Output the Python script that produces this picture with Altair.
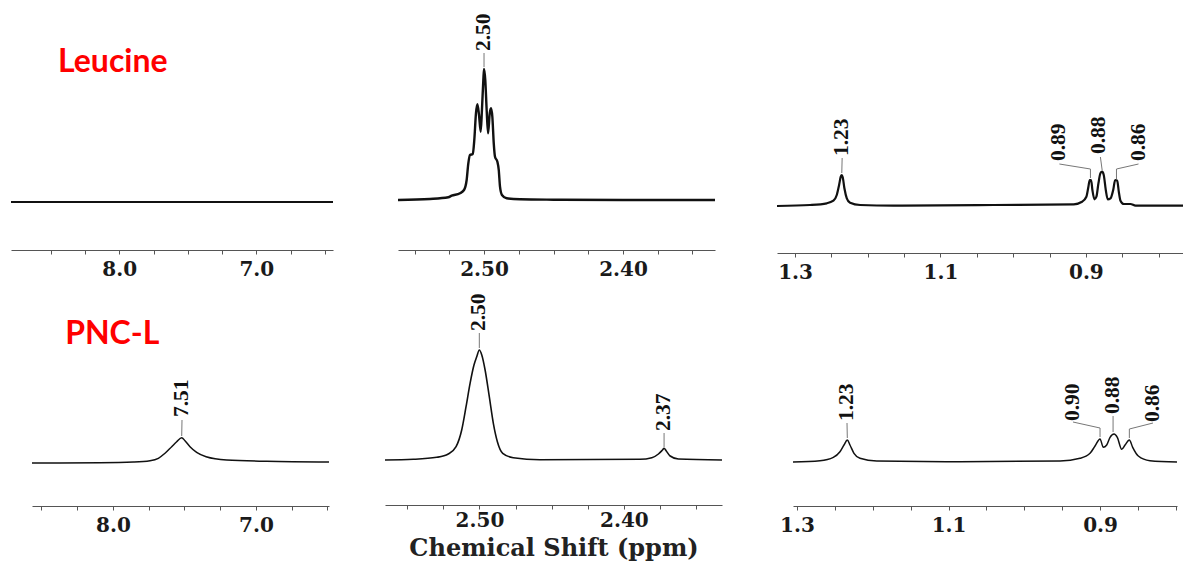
import altair as alt
import pandas as pd

CANVAS_W, CANVAS_H = 1183, 561

# ---------------- data (ppm, intensity) ----------------
# Top row: Leucine
LEU_AR_PPM = [8.79, 8.40, 8.00, 7.60, 7.20, 6.80, 6.44]
LEU_AR_H = [0, 0, 0, 0, 0, 0, 0]

LEU_DMSO_PPM = [2.5619, 2.5389, 2.5257, 2.5233, 2.5173, 2.5144, 2.5125, 2.5113, 2.5101,
                2.5081, 2.5070, 2.5058, 2.5048, 2.5036, 2.5024, 2.5015, 2.5005, 2.5000,
                2.4991, 2.4981, 2.4971, 2.4959, 2.4950, 2.4940, 2.4930, 2.4921, 2.4904,
                2.4894, 2.4885, 2.4871, 2.4837, 2.4741, 2.4500, 2.4000, 2.3600, 2.3338]
LEU_DMSO_H = [0, 1, 2.7, 4.3, 6.7, 10, 20, 36.7, 45,
              46, 60, 86.7, 95.7, 85, 68.3, 90, 120, 131,
              120, 90, 66.7, 86.7, 91.7, 83, 56.7, 43.3, 38.3,
              30, 13.3, 5, 1.7, 0.7, 0.3, 0, 0, 0]

LEU_AL_PPM = [1.3248, 1.2793, 1.2563, 1.2472, 1.2426, 1.2394, 1.2371, 1.2357, 1.2344,
              1.2321, 1.2288, 1.2243, 1.2105, 1.1646, 1.0269, 0.9167, 0.9052, 0.8993,
              0.8965, 0.8947, 0.8928, 0.8910, 0.8882, 0.8855, 0.8827, 0.8800, 0.8776,
              0.8754, 0.8726, 0.8699, 0.8661, 0.8624, 0.8597, 0.8569, 0.8547, 0.8524,
              0.8478, 0.8386, 0.8317, 0.7664]
LEU_AL_H = [0, 1, 2.7, 5.3, 11, 21, 29.3, 31, 28.7,
            17.7, 7.7, 3.3, 1, 0.3, 1, 1.7, 4.3, 9.3,
            19.3, 26, 26, 16, 6.7, 9.3, 22.7, 32.7, 34.3,
            31, 16, 6.7, 7.7, 16, 26, 25.3, 14.3, 5.3,
            2, 2, 0.3, 0.3]

# Bottom row: PNC-L
PNC_AR_PPM = [8.566, 8.0905, 7.8576, 7.7408, 7.6826, 7.6359, 7.5891, 7.5541, 7.5191,
              7.4961, 7.4611, 7.4145, 7.3483, 7.2045, 6.9247, 6.489]
PNC_AR_H = [0, 0.3, 1, 2.3, 4.7, 9.7, 16.3, 21.3, 25.3,
            22.3, 16.3, 10.7, 6.3, 3, 1.7, 1]

PNC_DMSO_PPM = [2.5654, 2.5458, 2.5296, 2.5216, 2.5162, 2.5123, 2.5093, 2.5065, 2.5038,
                2.5019, 2.5001, 2.4984, 2.4961, 2.4932, 2.4904, 2.4876, 2.4839, 2.4766,
                2.4581, 2.3888, 2.3807, 2.3761, 2.3733, 2.3722, 2.3708, 2.3680, 2.3623,
                2.3321]
PNC_DMSO_H = [0, 0.7, 2.7, 6, 13.3, 30, 53.3, 76.7, 95,
              103.3, 110, 105, 90, 63.3, 36.7, 18.3, 6.7, 2.3,
              0.3, 0.7, 2.3, 6, 10, 11.7, 9.3, 4, 1,
              0]

PNC_AL_PPM = [1.3053, 1.2697, 1.2521, 1.2433, 1.2380, 1.2336, 1.2301, 1.2248, 1.2169,
              1.1948, 1.0848, 0.9528, 0.9264, 0.9132, 0.9066, 0.9000, 0.8957, 0.8912,
              0.8868, 0.8815, 0.8772, 0.8714, 0.8670, 0.8613, 0.8569, 0.8495, 0.8341,
              0.7984]
PNC_AL_H = [0, 1.3, 4.7, 10.3, 17, 22, 17, 8.7, 3.7,
            1, 0.3, 1, 3.7, 8.7, 16, 23, 14.7, 17,
            24.7, 28, 24.7, 12.7, 17, 22, 14.7, 6, 1.3,
            0]

# Peak labels: text, ppm of label, intensity at the foot of the label
LEU_DMSO_LABELS = [("2.50", 2.5000, 149)]
LEU_AL_LABELS = [("1.23", 1.2352, 50), ("0.89", 0.9364, 45), ("0.88", 0.8813, 52), ("0.86", 0.8276, 45)]
PNC_AR_LABELS = [("7.51", 7.517, 46)]
PNC_DMSO_LABELS = [("2.50", 2.5001, 129), ("2.37", 2.3722, 29)]
PNC_AL_LABELS = [("1.23", 1.2340, 41), ("0.90", 0.9357, 41), ("0.88", 0.8828, 48), ("0.86", 0.8301, 40)]

# Leader lines from label to peak (ppm, intensity)
LEU_DMSO_LEADERS = [[(2.5000, 147), (2.5000, 133)]]
LEU_AL_LEADERS = [[(1.2352, 48), (1.2357, 33)],
                  [(0.9364, 42), (0.8937, 37), (0.8937, 28)],
                  [(0.8800, 49), (0.8776, 36)],
                  [(0.8276, 42), (0.8579, 37), (0.8579, 27)]]
PNC_AR_LEADERS = [[(7.517, 43), (7.519, 27)]]
PNC_DMSO_LEADERS = [[(2.5001, 127), (2.5001, 112)], [(2.3722, 27), (2.3722, 13)]]
PNC_AL_LEADERS = [[(1.2340, 39), (1.2336, 24)],
                  [(0.9357, 40), (0.9000, 34), (0.9000, 25)],
                  [(0.8828, 46), (0.8828, 30)],
                  [(0.8301, 39), (0.8613, 33), (0.8613, 24)]]

# Axis ticks (minor + labelled)
TICKS_AR = [8.5, 8.25, 8.0, 7.75, 7.5, 7.25, 7.0, 6.75, 6.5]
MAJOR_AR = [8.0, 7.0]
TICKS_DMSO = [2.55, 2.525, 2.5, 2.475, 2.45, 2.425, 2.4, 2.375, 2.35]
MAJOR_DMSO = [2.5, 2.4]
TICKS_AL = [1.3, 1.25, 1.2, 1.15, 1.1, 1.05, 1.0, 0.95, 0.9, 0.85, 0.8]
MAJOR_AL = [1.3, 1.1, 0.9]

SAMPLE_NAMES = ["Leucine", "PNC-L"]
AXIS_TITLE = "Chemical Shift (ppm)"


def panel(ppm, h, labels, leaders, xdom, xpix, ybase, axis_y, ticks, major, fmt,
          lw, note=None, title=None):
    xs = alt.Scale(domain=xdom, range=[xpix[1], xpix[0]], nice=False, zero=False)
    ys = alt.Scale(domain=[0, 100], range=[ybase, ybase - 100], nice=False, zero=False)
    cond = " || ".join(f"abs(datum.value - {m}) < 1e-6" for m in major)
    axis_kw = dict(
        values=ticks, labelExpr=f"({cond}) ? format(datum.value, '{fmt}') : ''",
        orient="bottom", offset=axis_y - CANVAS_H, grid=False,
        domainColor="#555555", domainWidth=1.2, tickColor="#555555", tickWidth=1,
        tickSize=4, labelFont="DejaVu Serif", labelFontWeight="bold", labelFontSize=20,
        labelColor="#1a1a1a", labelPadding=5, labelOverlap=False, labelFlush=False,
        labelBound=False,
    )
    if title:
        axis_kw.update(title=title, titleFont="DejaVu Serif", titleFontWeight="bold",
                       titleFontSize=24, titleColor="#222222", titleY=50,
                       titleBaseline="alphabetic", labelPadding=1)
    else:
        axis_kw.update(title=None)
    X = alt.X("ppm:Q", scale=xs, axis=alt.Axis(**axis_kw))
    Y = alt.Y("h:Q", scale=ys, axis=None)

    spec = pd.DataFrame({"ppm": ppm, "h": h, "i": list(range(len(ppm)))})
    layers = [alt.Chart(spec).mark_line(color="#111111", strokeWidth=lw,
                                        interpolate="monotone").encode(
        x=X, y=Y, order="i:Q")]

    rows = []
    for k, pts in enumerate(leaders):
        for s, (p, v) in enumerate(pts):
            rows.append({"ppm": p, "h": v, "lid": k, "seq": s})
    lead = pd.DataFrame(rows)
    layers.append(alt.Chart(lead).mark_line(color="#777777", strokeWidth=1).encode(
        x=X, y=Y, detail="lid:N", order="seq:Q"))

    lab = pd.DataFrame({"txt": [t for t, _, _ in labels],
                        "ppm": [p for _, p, _ in labels],
                        "h": [v for _, _, v in labels]})
    layers.append(alt.Chart(lab).mark_text(angle=270, align="left", baseline="middle",
                                           font="Liberation Serif", fontSize=21.5,
                                           fontWeight="bold", color="#111111").encode(
        x=X, y=Y, text="txt:N"))

    if note is not None:
        nd = pd.DataFrame({"txt": [note[0]], "ppm": [note[1]], "h": [note[2]]})
        layers.append(alt.Chart(nd).mark_text(align="center", baseline="alphabetic",
                                              font="Lato", fontWeight="bold", fontSize=32,
                                              color="#ff0000").encode(
            x=X, y=Y, text="txt:N"))
    return alt.layer(*layers)


p1 = panel(LEU_AR_PPM, LEU_AR_H, [], [], [6.44, 8.79], (11, 333), 202, 250,
           TICKS_AR, MAJOR_AR, ".1f", 2.0, note=(SAMPLE_NAMES[0], 8.047, 130))
p2 = panel(LEU_DMSO_PPM, LEU_DMSO_H, LEU_DMSO_LABELS, LEU_DMSO_LEADERS,
           [2.3338, 2.5619], (398, 715), 200, 250, TICKS_DMSO, MAJOR_DMSO, ".2f", 2.4)
p3 = panel(LEU_AL_PPM, LEU_AL_H, LEU_AL_LABELS, LEU_AL_LEADERS,
           [0.7664, 1.3248], (777, 1183), 206, 253, TICKS_AL, MAJOR_AL, ".1f", 2.2)
p4 = panel(PNC_AR_PPM, PNC_AR_H, PNC_AR_LABELS, PNC_AR_LEADERS,
           [6.489, 8.566], (32, 329), 463, 506, TICKS_AR, MAJOR_AR, ".1f", 1.5,
           note=(SAMPLE_NAMES[1], 8.005, 119))
p5 = panel(PNC_DMSO_PPM, PNC_DMSO_H, PNC_DMSO_LABELS, PNC_DMSO_LEADERS,
           [2.3321, 2.5654], (385, 722), 460, 505, TICKS_DMSO, MAJOR_DMSO, ".2f", 1.6,
           title=AXIS_TITLE)
p6 = panel(PNC_AL_PPM, PNC_AL_H, PNC_AL_LABELS, PNC_AL_LEADERS,
           [0.7984, 1.3053], (793, 1177), 462, 506, TICKS_AL, MAJOR_AL, ".1f", 1.5)

chart = (
    alt.layer(p1, p2, p3, p4, p5, p6)
    .resolve_scale(x="independent", y="independent")
    .resolve_axis(x="independent", y="independent")
    .properties(width=CANVAS_W, height=CANVAS_H,
                autosize=alt.AutoSizeParams(type="none"), padding=0, background="white")
    .configure_view(stroke=None)
)

chart.save("out.html", embed_options={"renderer": "svg", "actions": False})
